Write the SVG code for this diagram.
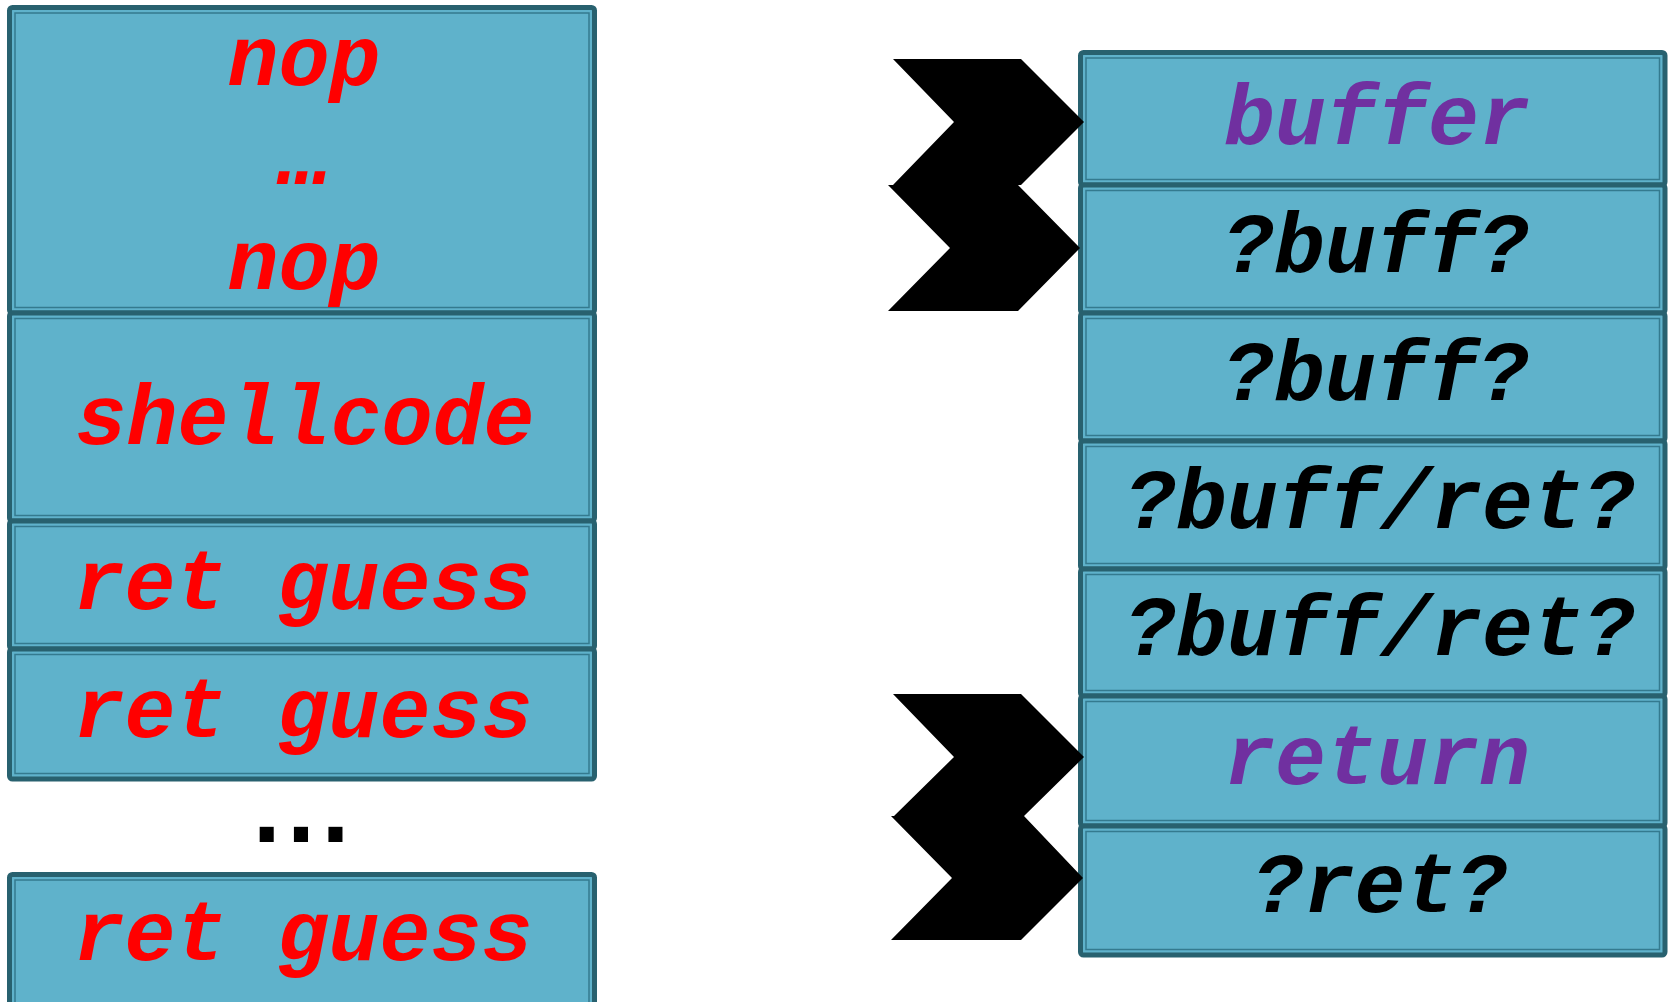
<svg xmlns="http://www.w3.org/2000/svg" width="1668" height="1002" viewBox="0 0 1668 1002">
  <style>
    .cell { fill: #5FB2CB; stroke: #28616F; stroke-width: 5; }
    .inner { fill: none; stroke: #347A8F; stroke-width: 1.5; }
    .lbl { font-family: "Liberation Mono", "Courier New", monospace; font-weight: bold; font-style: italic; font-size: 85px; text-anchor: middle; }
    .red { fill: #FF0000; }
    .purple { fill: #7030A0; }
    .black { fill: #000000; }
    .ptr { fill: #000000; }
  </style>
  <rect width="1668" height="1002" fill="#FFFFFF"/>

  <!-- attack payload column -->
  <g id="payload-nops">
    <rect class="cell" x="9.5" y="7.5" width="585" height="305.5" rx="3"/>
    <rect class="inner" x="15" y="13" width="574" height="294.5"/>
    <text class="lbl red" x="304" y="85">nop</text>
    <text class="lbl red" x="304" y="184">…</text>
    <text class="lbl red" x="304" y="289">nop</text>
  </g>
  <g id="payload-shellcode">
    <rect class="cell" x="9.5" y="313" width="585" height="208" rx="3"/>
    <rect class="inner" x="15" y="318.5" width="574" height="197"/>
    <text class="lbl red" x="305" y="444">shellcode</text>
  </g>
  <g id="payload-ret1">
    <rect class="cell" x="9.5" y="521" width="585" height="128" rx="3"/>
    <rect class="inner" x="15" y="526.5" width="574" height="117"/>
    <text class="lbl red" x="303" y="609">ret guess</text>
  </g>
  <g id="payload-ret2">
    <rect class="cell" x="9.5" y="649" width="585" height="130" rx="3"/>
    <rect class="inner" x="15" y="654.5" width="574" height="119"/>
    <text class="lbl red" x="303" y="737">ret guess</text>
  </g>
  <g id="payload-gap">
    <text x="303" y="842" font-family="DejaVu Sans, Arial, sans-serif" font-weight="bold" font-size="80" letter-spacing="4" text-anchor="middle" fill="#000000">...</text>
  </g>
  <g id="payload-ret3">
    <rect class="cell" x="9.5" y="874.5" width="585" height="140" rx="3"/>
    <rect class="inner" x="15" y="880" width="574" height="129"/>
    <text class="lbl red" x="303" y="960">ret guess</text>
  </g>

  <!-- stack frame column -->
  <g id="stack-buffer">
    <rect class="cell" x="1080.5" y="52.5" width="584.5" height="132.5" rx="3"/>
    <rect class="inner" x="1086" y="58" width="573.5" height="121.5"/>
    <text class="lbl purple" x="1377" y="144">buffer</text>
  </g>
  <g id="stack-buff1">
    <rect class="cell" x="1080.5" y="185" width="584.5" height="128" rx="3"/>
    <rect class="inner" x="1086" y="190.5" width="573.5" height="117"/>
    <text class="lbl black" x="1376" y="272">?buff?</text>
  </g>
  <g id="stack-buff2">
    <rect class="cell" x="1080.5" y="313" width="584.5" height="128" rx="3"/>
    <rect class="inner" x="1086" y="318.5" width="573.5" height="117"/>
    <text class="lbl black" x="1376" y="400">?buff?</text>
  </g>
  <g id="stack-buffret1">
    <rect class="cell" x="1080.5" y="441" width="584.5" height="128" rx="3"/>
    <rect class="inner" x="1086" y="446.5" width="573.5" height="117"/>
    <text class="lbl black" x="1380" y="528">?buff/ret?</text>
  </g>
  <g id="stack-buffret2">
    <rect class="cell" x="1080.5" y="569" width="584.5" height="127" rx="3"/>
    <rect class="inner" x="1086" y="574.5" width="573.5" height="116"/>
    <text class="lbl black" x="1380" y="655">?buff/ret?</text>
  </g>
  <g id="stack-return">
    <rect class="cell" x="1080.5" y="696" width="584.5" height="130" rx="3"/>
    <rect class="inner" x="1086" y="701.5" width="573.5" height="119"/>
    <text class="lbl purple" x="1377" y="784">return</text>
  </g>
  <g id="stack-ret">
    <rect class="cell" x="1080.5" y="826" width="584.5" height="129" rx="3"/>
    <rect class="inner" x="1086" y="831.5" width="573.5" height="118"/>
    <text class="lbl black" x="1380" y="912">?ret?</text>
  </g>

  <!-- chevron pointers aimed at stack slots -->
  <g id="pointers">
    <polygon class="ptr" points="893,59 1021,59 1084,122 1021,185 893,185 954,122"/>
    <polygon class="ptr" points="888,185 1018,185 1080,248 1018,311 888,311 950,248"/>
    <polygon class="ptr" points="893,694 1021,694 1084,757 1023,817 893,817 954,757"/>
    <polygon class="ptr" points="891,816 1024,816 1083,878 1021,940 891,940 952,878"/>
  </g>
</svg>
